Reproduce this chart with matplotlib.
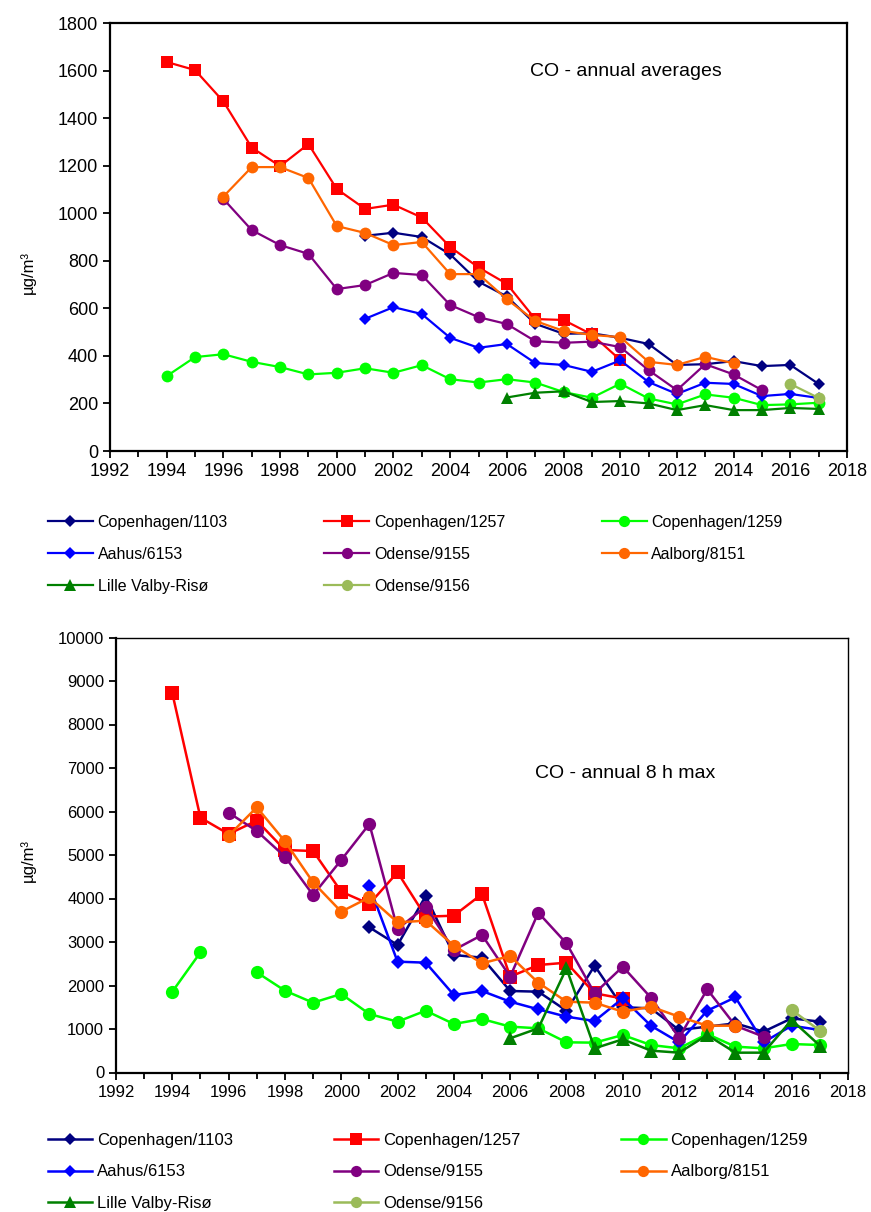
import numpy as np
import matplotlib
matplotlib.use('Agg')
import matplotlib.pyplot as plt
from matplotlib.ticker import MultipleLocator

plt.rcParams['font.family'] = ['Liberation Sans', 'DejaVu Sans']

nan = np.nan
years = list(range(1994, 2018))

names = ['Copenhagen/1103', 'Copenhagen/1257', 'Copenhagen/1259', 'Aahus/6153',
         'Odense/9155', 'Aalborg/8151', 'Lille Valby-Risø', 'Odense/9156']

# annual averages (µg/m3), 1994-2017
avg_cph1103 = [nan]*7 + [905, 918, 900, 827, 712, 650, 535, 493, 495, 476, 450, 362, 365, 378, 357, 362, 282]
avg_cph1257 = [1636, 1602, 1470, 1276, 1198, 1291, 1102, 1018, 1036, 982, 858, 772, 703, 555, 551, 490, 383] + [nan]*7
avg_cph1259 = [315, 395, 407, 375, 353, 322, 329, 348, 329, 361, 302, 288, 302, 288, 248, 224, 283, 221, 196, 238, 224, 193, 196, 203]
avg_aahus = [nan]*7 + [556, 605, 576, 476, 434, 450, 370, 362, 333, 381, 290, 240, 287, 282, 231, 240, 223]
avg_ode9155 = [nan, nan, 1060, 929, 866, 829, 681, 698, 749, 740, 614, 563, 534, 462, 455, 460, 437, 340, 256, 365, 322, 256, nan, nan]
avg_aalborg = [nan, nan, 1070, 1194, 1194, 1148, 946, 917, 866, 879, 744, 744, 638, 547, 505, 488, 479, 375, 362, 396, 369, nan, nan, nan]
avg_lille = [nan]*12 + [225, 245, 251, 206, 210, 200, 172, 193, 172, 172, 181, 177]
avg_ode9156 = [nan]*22 + [282, 223]

# annual 8 h max (µg/m3), 1994-2017
max_cph1103 = [nan]*7 + [3337, 2931, 4057, 2701, 2640, 1874, 1858, 1421, 2456, 1500, 1475, 977, 1054, 1130, 939, 1245, 1169]
max_cph1257 = [8720, 5857, 5483, 5789, 5115, 5092, 4157, 3874, 4602, 3582, 3605, 4103, 2203, 2471, 2525, 1820, 1700] + [nan]*7
max_cph1259 = [1858, 2763, nan, 2303, 1881, 1605, 1805, 1345, 1168, 1421, 1115, 1230, 1054, 1016, 694, 686, 862, 632, 556, 885, 594, 556, 655, 632]
max_aahus = [nan]*7 + [4287, 2548, 2525, 1782, 1874, 1628, 1452, 1283, 1184, 1705, 1076, 694, 1421, 1728, 694, 1076, 977]
max_ode9155 = [nan, nan, 5973, 5552, 4962, 4080, 4885, 5713, 3299, 3812, 2816, 3161, 2203, 3674, 2969, 1820, 2433, 1720, 801, 1912, 1076, 824, nan, nan]
max_aalborg = [nan, nan, 5444, 6096, 5315, 4372, 3697, 4027, 3452, 3490, 2916, 2510, 2678, 2064, 1628, 1605, 1398, 1513, 1283, 1076, 1076, nan, nan, nan]
max_lille = [nan]*12 + [786, 1016, 2395, 556, 763, 502, 456, 862, 456, 456, 1207, 617]
max_ode9156 = [nan]*22 + [1437, 962]

colors = ['#000080', '#FF0000', '#00FF00', '#0000FF', '#800080', '#FF6600', '#008000', '#9BBB59']
markers = ['D', 's', 'o', 'D', 'o', 'o', '^', 'o']
msizes = [6.5, 8.5, 8.5, 6.5, 8.5, 8.5, 8.5, 8.5]

avg_series = [avg_cph1103, avg_cph1257, avg_cph1259, avg_aahus, avg_ode9155, avg_aalborg, avg_lille, avg_ode9156]
max_series = [max_cph1103, max_cph1257, max_cph1259, max_aahus, max_ode9155, max_aalborg, max_lille, max_ode9156]

# legend order so that rows read like the original (3 columns)
leg_order = [0, 3, 6, 1, 4, 7, 2, 5]

fig = plt.figure(figsize=(8.71, 12.12), dpi=100)
ax1 = fig.add_axes([110/871, 1-451/1212, (847-110)/871, (451-23)/1212])
ax2 = fig.add_axes([116/871, 1-1072.5/1212, (848-116)/871, (1072.5-637.5)/1212])


def draw(ax, series, scale, lw):
    lines = []
    for i, s in enumerate(series):
        ln, = ax.plot(years, s, color=colors[i], marker=markers[i], markersize=msizes[i]*scale,
                      markeredgewidth=0, lw=lw, label=names[i])
        lines.append(ln)
    ax.set_xlim(1992, 2018)
    ax.xaxis.set_major_locator(MultipleLocator(2))
    ax.xaxis.set_minor_locator(MultipleLocator(1))
    for sp in ax.spines.values():
        sp.set_linewidth(1.6)
    ax.tick_params(which='both', direction='out', width=1.3)
    ax.tick_params(which='major', length=5)
    ax.tick_params(which='minor', length=4)
    return lines


lines1 = draw(ax1, avg_series, 1.0, 1.6)
ax1.set_ylim(0, 1800)
ax1.yaxis.set_major_locator(MultipleLocator(200))
ax1.tick_params(axis='both', labelsize=13)
ax1.tick_params(axis='x', pad=4)

lines2 = draw(ax2, max_series, 1.12, 1.8)
ax2.set_ylim(0, 10000)
ax2.yaxis.set_major_locator(MultipleLocator(1000))
ax2.tick_params(axis='both', labelsize=12)
ax2.tick_params(axis='x', pad=4)
ax2.spines['right'].set_linewidth(1.0)
ax2.spines['top'].set_linewidth(1.0)

fig.text(530/871, 1-72/1212, 'CO - annual averages', fontsize=14, va='center')
fig.text(535/871, 1-773/1212, 'CO - annual 8 h max', fontsize=14, va='center')
fig.text(28/871, 1-272/1212, 'µg/m³', rotation=90, fontsize=12, ha='center', va='center')
fig.text(28/871, 1-860/1212, 'µg/m³', rotation=90, fontsize=12, ha='center', va='center')

fig.legend([lines1[i] for i in leg_order], [names[i] for i in leg_order],
           loc='upper left', bbox_to_anchor=(48/871, 1-515/1212), ncol=3, frameon=False,
           fontsize=11.5, handlelength=2.8, handletextpad=0.3, columnspacing=6.05,
           labelspacing=1.05, borderpad=0, borderaxespad=0, markerscale=0.95)
fig.legend([lines2[i] for i in leg_order], [names[i] for i in leg_order],
           loc='upper left', bbox_to_anchor=(48/871, 1-1133/1212), ncol=3, frameon=False,
           fontsize=12, handlelength=2.65, handletextpad=0.3, columnspacing=6.05,
           labelspacing=0.98, borderpad=0, borderaxespad=0, markerscale=0.85)

fig.savefig('out.png', dpi=100, facecolor='white')
